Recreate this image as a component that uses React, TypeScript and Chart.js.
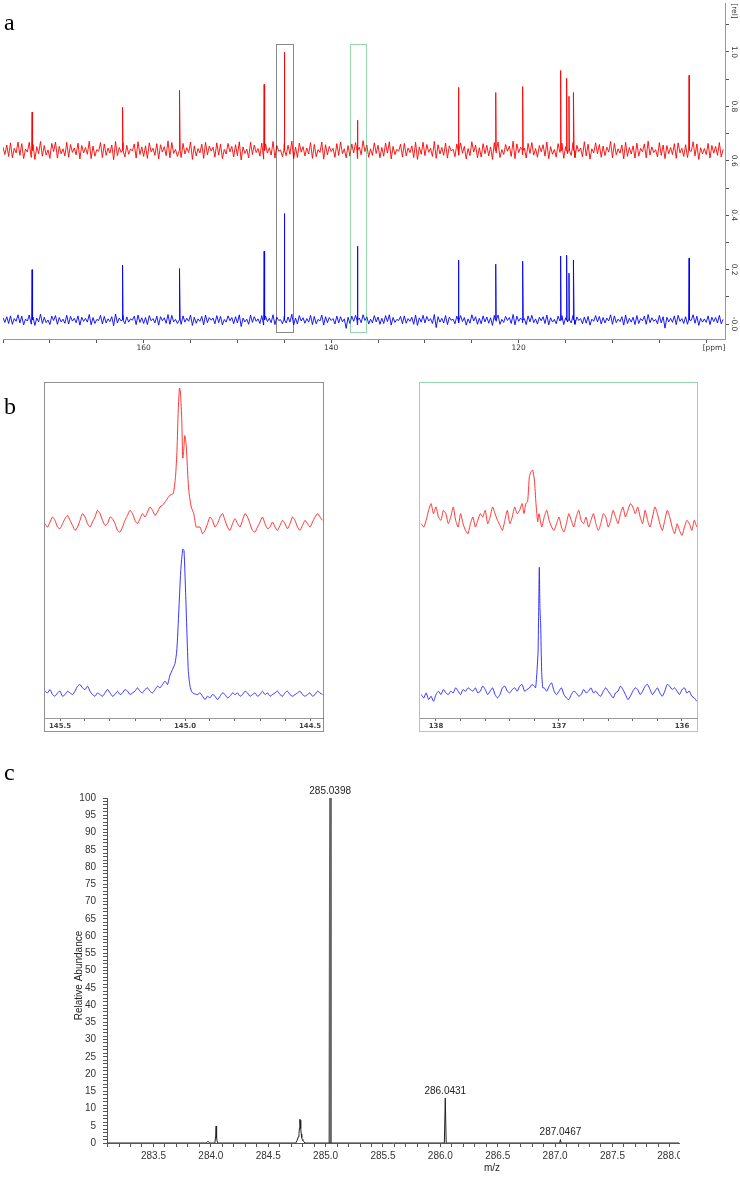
import React, { useEffect, useRef } from 'react';
import { Chart, registerables } from 'chart.js';

Chart.register(...registerables);
Chart.defaults.font.family = '"Liberation Sans", Arial, sans-serif';

// ================= Panel a : 13C spectra (ppm vs rel) =================
const A_PPM_MIN = 98;
const A_PPM_MAX = 175;
const A_REL_MIN = -0.055;
const A_REL_MAX = 1.18;
const A_UPPER_START_PPM = 175;   // grid of noise crests
const A_LOWER_START_PPM = 174.8; // interleaved grid of noise troughs
const A_NOISE_STEP_PPM = 0.4;
const A_RED_BASELINE = 0.638;
const A_BLUE_BASELINE = 0.015;
// baseline noise crests / troughs, in thousandths of "rel"
const redUpperA = [
  12, 20, 28, 8, 31, 25, 5, 30, 22, 14, 33, 18, 2, 26, 31, 15, 6, 30, 22, 9,
  27, 18, 11, 34, 16, 3, 29, 24, 9, 20, 33, 11, 27, 19, 6, 24, 32, 13, 17, 28,
  8, 25, 21, 14, 35, 29, 4, 19, 26, 10, 31, 17, 7, 23, 30, 16, 12, 28, 23, 4,
  26, 15, 21, 32, 13, 5, 30, 20, 7, 27, 24, 10, 33, 18, 2, 25, 19, 34, 12, 27,
  14, 9, 29, 22, 3, 31, 21, 15, 8, 25, 31, 6, 18, 24, 29, 12, 36, 20, 6, 28,
  19, 11, 27, 32, 15, 4, 23, 26, 9, 17, 30, 13, 30, 22, 8, 33, 21, 11, 27, 17,
  5, 24, 28, 15, 7, 32, 20, 10, 25, 19, 13, 29, 31, 3, 22, 16, 34, 24, 12, 9,
  26, 29, 7, 18, 21, 31, 14, 4, 25, 27, 14, 10, 30, 19, 9, 32, 23, 6, 28, 22,
  16, 12, 33, 26, 6, 20, 30, 11, 17, 27, 8, 24, 34, 13, 3, 29, 20, 18, 11, 25,
  28, 8, 21, 15, 32, 24, 10, 7, 26, 18, 15, 29, 4,
];
const redLowerA = [
  -15, -22, -27, -9, -18, -30, -6, -25, -33, -12, -21, -17, -29, -4, -28, -12, -20, -25, -7, -16,
  -31, -9, -14, -30, -21, -3, -26, -18, -10, -34, -19, -7, -24, -14, -2, -28, -15, -22, -29, -5,
  -18, -31, -6, -19, -27, -11, -22, -26, -13, -8, -33, -20, -9, -29, -16, -2, -24, -17, -30, -13,
  -5, -24, -19, -35, -11, -27, -15, -8, -21, -32, -10, -17, -28, -3, -23, -19, -14, -30, -26, -6,
  -20, -13, -29, -23, -7, -32, -16, -4, -25, -18, -12, -27, -21, -9, -30, -16, -4, -25, -18, -11,
  -27, -21, -10, -31, -15, -3, -24, -20, -8, -26, -33, -14, -19, -7, -22, -29, -13, -18, -28, -2,
  -23, -17, -10, -31, -19, -6, -27, -24, -12, -20, -33, -9, -26, -15, -3, -22, -30, -8, -16, -28,
  -11, -17, -25, -5, -21, -30, -14, -24, -7, -29, -11, -18, -26, -4, -23, -20, -32, -9, -12, -25,
  -19, -6, -27, -16, -10, -31, -22, -13, -28, -21, -5, -27, -17, -8, -24, -18, -30, -12, -15, -29,
  -9, -22, -26, -4, -20, -33, -13, -15, -28, -10, -18, -24,
];
const blueUpperA = [
  8, 12, 15, 5, 19, 14, 3, 18, 11, 7, 21, 10, 0, 14, 16, 9, 3, 17, 13, 6,
  15, 10, 6, 20, 9, 2, 17, 13, 4, 12, 22, 7, 16, 11, 4, 14, 18, 8, 9, 16,
  5, 14, 12, 8, 20, 17, 2, 11, 15, 6, 18, 10, 4, 13, 18, 9, 7, 16, 13, 2,
  15, 9, 12, 19, 7, 3, 18, 12, 4, 16, 14, 6, 19, 10, 1, 14, 11, 21, 7, 16,
  8, 5, 17, 13, 2, 18, 12, 9, 5, 14, 12, 4, 10, 14, 17, 7, 19, 12, 3, 16,
  11, 6, 16, 19, 9, 2, 13, 15, 5, 10, 18, 8, 17, 13, 5, 20, 12, 6, 16, 10,
  3, 14, 16, 9, 4, 19, 12, 6, 15, 11, 8, 17, 18, 2, 13, 9, 20, 14, 7, 5,
  15, 17, 4, 10, 12, 18, 8, 2, 14, 16, 8, 6, 17, 11, 5, 11, 13, 3, 16, 13,
  9, 7, 19, 15, 3, 12, 18, 6, 10, 16, 5, 14, 20, 8, 2, 17, 12, 10, 6, 15,
  17, 5, 12, 9, 19, 14, 6, 4, 15, 10, 9, 17, 2,
];
const blueLowerA = [
  -9, -13, -16, -5, -11, -18, -4, -15, -20, -7, -13, -10, -17, -2, -16, -7, -12, -15, -4, -10,
  -19, -5, -8, -18, -13, -2, -15, -11, -6, -21, -11, -4, -14, -8, -1, -17, -9, -13, -17, -3,
  -11, -19, -3, -12, -16, -7, -13, -16, -8, -5, -20, -12, -5, -18, -10, -1, -14, -10, -18, -8,
  -3, -14, -11, -24, -7, -16, -9, -5, -13, -19, -6, -10, -17, -2, -14, -11, -8, -18, -15, -4,
  -12, -8, -17, -14, -4, -19, -10, -2, -15, -11, -7, -31, -13, -5, -18, -10, -2, -15, -11, -7,
  -16, -13, -6, -19, -9, -2, -14, -12, -5, -16, -20, -8, -11, -4, -13, -28, -8, -11, -17, -1,
  -14, -10, -6, -19, -12, -4, -16, -14, -7, -12, -20, -5, -16, -9, -2, -13, -18, -5, -10, -17,
  -7, -10, -15, -3, -13, -18, -8, -14, -4, -17, -7, -11, -16, -2, -14, -12, -19, -5, -7, -15,
  -11, -4, -16, -10, -6, -19, -13, -8, -17, -13, -3, -16, -10, -5, -14, -11, -30, -7, -9, -17,
  -5, -13, -16, -2, -12, -20, -8, -9, -17, -6, -11, -14,
];
const peakPpmA = [171.9, 162.25, 156.15, 147.15, 145.0, 137.2, 126.41, 122.45, 119.56, 115.53, 114.89, 114.64, 114.14, 101.83];
const redPeakA = [0.779, 0.797, 0.859, 0.881, 0.999, 0.749, 0.87, 0.851, 0.873, 0.932, 0.903, 0.837, 0.851, 0.914];
const bluePeakA = [0.2, 0.217, 0.204, 0.268, 0.406, 0.286, 0.235, 0.22, 0.231, 0.25, 0.253, 0.187, 0.235, 0.242];
const ppmTickStepA = 5;
const ppmLabelsA = [160, 140, 120];
const relTickStepA = 0.1;
const relLabelValuesA = [0, 0.2, 0.4, 0.6, 0.8, 1.0];
const relLabelTextsA = ['-0.0', '0.2', '0.4', '0.6', '0.8', '1.0'];
const boxPpmHighA = [145.9, 138.02];
const boxPpmLowA = [144.08, 136.26];
const boxColorsA = ['#111111', '#2fae5f'];
const BOX_REL_TOP_A = 1.028;
const BOX_REL_BOTTOM_A = -0.028;

// ================= Panel b (left) : 145.0 ppm region =================
const BL_PPM_MIN = 144.448;
const BL_PPM_MAX = 145.56;
const BL_START = 145.56;
const BL_STEP = 0.01;
const redNoiseBL = [
  58, 57, 58.5, 60, 59, 57, 56.5, 58, 59.5, 60.5, 59, 57.5, 56, 57, 59, 61, 60, 58, 57, 58.5,
  60, 62, 61, 59, 57.5, 58, 60, 59.5, 58, 56, 55.5, 57, 59, 60.5, 62, 61, 59, 58, 59.5, 61,
  60, 61.5, 63, 62, 60.5, 61.5, 63,
  null, null, null, null, null, null, null, null, null, null, null, null, null, null, null,
  57, 55, 56, 58, 60, 59, 57, 58, 60, 61, 59, 57, 56, 58, 59.5, 58, 57, 59, 61, 60,
  58, 56, 55.5, 57, 58.5, 60, 58, 56.5, 57, 58.5, 57, 56, 57.5, 59, 58, 56.5, 58, 60, 59, 57,
  56, 57.5, 59, 58, 57, 58.5, 60, 61, 60, 59,
];
const blueNoiseBL = [
  8, 7.5, 8.5, 7, 6.5, 7.5, 8, 6.5, 7, 8, 7.5, 7, 8, 9.5, 10, 9, 8.5, 9.5, 8, 7,
  6.5, 7.5, 7, 6.5, 7.5, 8.5, 7.5, 6.5, 7, 8, 7, 7.5, 8.5, 8, 7, 7.5, 8, 9, 8, 7.5,
  8.5, 9, 8, 7.5, 8.5, 9.5, 9, 10, 11,
  null, null, null, null, null, null, null, null, null, null, null, null,
  7, 7.5, 6.5, 5.5, 6.5, 6, 7, 6.5, 5.5, 6.5, 7.5, 7, 6, 6.5, 7.5, 7, 7.5, 6.5, 7, 8,
  7.5, 6.5, 7, 7.5, 6.5, 7, 8, 7, 7.5, 6.5, 7, 7.5, 8, 7, 6.5, 7.5, 8, 7, 6.5, 7,
  7.5, 8, 7, 6.5, 7, 7.5, 6.5, 7, 8, 7.5, 7,
];
const redPeakPpmBL = [145.09, 145.075, 145.06, 145.047, 145.038, 145.032, 145.027, 145.022, 145.018, 145.013, 145.009, 145.005, 145.001, 144.996, 144.992, 144.985, 144.975, 144.965, 144.955];
const redPeakValBL = [63.5, 65, 66.5, 67, 72, 80, 92, 98.5, 97, 89, 77.6, 80, 84.3, 82, 77, 68, 63, 61, 57];
const bluePeakPpmBL = [145.07, 145.06, 145.05, 145.04, 145.033, 145.027, 145.017, 145.009, 145.004, 144.996, 144.987, 144.98, 144.973, 144.965];
const bluePeakValBL = [10, 12.8, 14.5, 16.3, 20, 28.3, 44, 50.4, 50, 34, 14.3, 9.5, 7.8, 7.3];
const tickStepBL = 0.1;
const labelsBL = [145.5, 145.0, 144.5];

// ================= Panel b (right) : 137 ppm region =================
const BR_PPM_MIN = 135.878;
const BR_PPM_MAX = 138.13;
const BR_START = 138.12;
const BR_STEP = 0.02;
const redNoiseBR = [
  58, 57, 59, 62, 64, 61, 63, 60, 59, 62, 61, 58, 60, 63, 59, 57, 61, 58, 56, 55,
  58, 60, 57, 59, 61, 60, 62, 58, 60, 63, 61, 59, 57.5, 56, 59, 62, 58, 60, 63, 61,
  62, 64,
  null, null, null, null, null, null, null,
  57, 60, 62, 59, 57, 56, 58, 60, 57, 55.5, 58, 61, 59, 57, 60, 62, 59, 58, 60, 57,
  59, 61, 58, 56, 58, 61, 60, 57, 59, 62, 60, 58, 61, 63, 60, 62, 64, 63, 61, 63,
  60, 58, 62, 59, 57, 60, 63, 61, 58, 56, 59, 62, 60, 57, 55, 58, 56, 54.5, 57, 59,
  58, 56, 59, 57,
];
const blueNoiseBR = [
  7, 6, 7.5, 5.5, 6.5, 5, 7, 8, 7, 8.5, 7.5, 7, 8, 7.5, 9, 8, 7, 8.5, 8, 9,
  8.5, 8, 9, 7.5, 8, 9.5, 8.5, 7, 8, 9, 7, 6, 7, 9, 9.5, 8, 7.5, 8.5, 9, 8,
  9.5, 10, 8, 8.5, 9, 10,
  null, null, null, null, null,
  8, 9.5, 10.5, 8, 7, 8, 9, 7, 6, 5.5, 7, 8, 7.5, 6.5, 7, 8.5, 7.5, 8, 9, 7.5,
  8, 7, 6.5, 8, 9, 8, 7, 6, 7.5, 8, 9.5, 8.5, 7, 5.5, 6.5, 8, 9, 8.5, 7, 8,
  9.5, 10, 8.5, 7, 8, 9, 7.5, 6.5, 8, 10, 9.5, 8.5, 9, 8, 7, 8.5, 9, 7.5, 8, 6.5,
  6, 5,
];
const redPeakPpmBR = [137.285, 137.27, 137.255, 137.241, 137.228, 137.214, 137.2, 137.187, 137.173, 137.163];
const redPeakValBR = [61, 64, 64.6, 72, 73.5, 74, 71, 64, 58.6, 61];
const bluePeakPpmBR = [137.2, 137.19, 137.179, 137.17, 137.165, 137.16, 137.155, 137.149, 137.141, 137.132, 137.12];
const bluePeakValBR = [9.5, 9, 14, 20, 33, 45, 33, 28, 14, 9, 9];
const tickStepBR = 0.2;
const labelsBR = [138, 137, 136];

// ================= Panel c : mass spectrum =================
const MZ_MIN = 283.095;
const MZ_MAX = 288.08;
const msMz = [283.095, 283.96, 283.975, 283.99, 284.035, 284.042, 284.046, 284.05, 284.058, 284.74, 284.752, 284.762, 284.768, 284.773, 284.776, 284.779, 284.782, 284.785, 284.788, 284.792, 284.797, 284.803, 284.81, 284.82, 285.033, 285.047, 286.035, 286.0431, 286.051, 287.04, 287.0467, 287.053, 288.08];
const msAbund = [0, 0, 0.5, 0, 0, 2, 4.9, 1.5, 0, 0, 0.8, 1.8, 2.8, 4.5, 6.9, 5.2, 6.6, 4.2, 2.6, 1.6, 1.0, 0.7, 0.4, 0, 0, 0, 0, 13, 0, 0, 1, 0, 0];
const msMainMz = [285.034, 285.0398, 285.046];
const msMainAbund = [0, 100, 0];
const msLabelMz = [285.0398, 286.0431, 287.0467];
const msLabelAbund = [100, 13, 1];
const mzTickStep = 0.1;
const abundTickStep = 1;

// ================= helpers =================
function buildA(upper: number[], lower: number[], base: number, peaks: number[]) {
  const pts: { x: number; y: number }[] = upper.map((n, i) => ({ x: A_UPPER_START_PPM - i * A_NOISE_STEP_PPM, y: base + n / 1000 }));
  lower.forEach((n, i) => pts.push({ x: A_LOWER_START_PPM - i * A_NOISE_STEP_PPM, y: base + n / 1000 }));
  peakPpmA.forEach((p, k) => {
    pts.push({ x: p + 0.05, y: base }, { x: p, y: peaks[k] }, { x: p - 0.05, y: base });
  });
  pts.sort((a, b) => b.x - a.x);
  return pts;
}

function buildB(start: number, step: number, noise: (number | null)[], px: number[], py: number[]) {
  const pts: { x: number; y: number }[] = [];
  noise.forEach((v, i) => {
    if (v !== null) pts.push({ x: start - i * step, y: v });
  });
  px.forEach((x, k) => pts.push({ x, y: py[k] }));
  pts.sort((a, b) => b.x - a.x);
  return pts;
}

const near = (a: number, b: number) => Math.abs(a - b) < 1e-6;

const NMR_FONT = '"DejaVu Sans", Verdana, sans-serif';

function configA() {
  const plugin = {
    id: 'panelA',
    afterDraw(chart: any) {
      const { ctx, scales } = chart;
      const x = scales.x;
      const y = scales.y;
      ctx.save();
      ctx.lineWidth = 1;
      ctx.setLineDash([1, 1]);
      boxPpmHighA.forEach((hi, k) => {
        const x1 = Math.round(x.getPixelForValue(hi));
        const x2 = Math.round(x.getPixelForValue(boxPpmLowA[k]));
        const y1 = Math.round(y.getPixelForValue(BOX_REL_TOP_A));
        const y2 = Math.round(y.getPixelForValue(BOX_REL_BOTTOM_A));
        ctx.strokeStyle = boxColorsA[k];
        ctx.strokeRect(x1 + 0.5, y1 + 0.5, x2 - x1, y2 - y1);
      });
      ctx.setLineDash([]);
      ctx.fillStyle = '#333';
      ctx.font = '7.5px ' + NMR_FONT;
      ctx.textAlign = 'center';
      ctx.textBaseline = 'middle';
      const lx = y.left + 8.5;
      relLabelValuesA.forEach((v, i) => {
        ctx.save();
        ctx.translate(lx, y.getPixelForValue(v));
        ctx.rotate(Math.PI / 2);
        ctx.fillText(relLabelTextsA[i], 0, 0);
        ctx.restore();
      });
      ctx.save();
      ctx.translate(lx, chart.chartArea.top + 8);
      ctx.rotate(Math.PI / 2);
      ctx.fillText('[rel]', 0, 0);
      ctx.restore();
      ctx.fillText('[ppm]', chart.chartArea.right - 11, x.top + 9);
      ctx.restore();
    },
  };
  return {
    type: 'line',
    data: {
      datasets: [
        { data: buildA(redUpperA, redLowerA, A_RED_BASELINE, redPeakA), borderColor: '#ff0000', borderWidth: 0.9, pointRadius: 0, tension: 0 },
        { data: buildA(blueUpperA, blueLowerA, A_BLUE_BASELINE, bluePeakA), borderColor: '#0000ff', borderWidth: 0.9, pointRadius: 0, tension: 0 },
      ],
    },
    options: {
      animation: false,
      responsive: false,
      devicePixelRatio: 1,
      events: [],
      layout: { padding: { left: 3, top: 3, right: 0, bottom: 0 } },
      plugins: { legend: { display: false }, tooltip: { enabled: false } },
      scales: {
        x: {
          type: 'linear', reverse: true, min: A_PPM_MIN, max: A_PPM_MAX, position: 'bottom',
          afterFit: (s: any) => { s.height = 21; },
          border: { display: true, color: '#999', width: 1 },
          grid: { display: true, drawOnChartArea: false, drawTicks: true, tickLength: 4, color: '#555' },
          ticks: {
            stepSize: ppmTickStepA, includeBounds: false, autoSkip: false, minRotation: 0, maxRotation: 0, padding: 0.5,
            font: { family: NMR_FONT, size: 7.5 }, color: '#333',
            callback: (v: number) => (ppmLabelsA.some((l) => near(l, v)) ? String(v) : ''),
          },
        },
        y: {
          type: 'linear', position: 'right', min: A_REL_MIN, max: A_REL_MAX,
          afterFit: (s: any) => { s.width = 15; },
          border: { display: true, color: '#999', width: 1 },
          grid: { display: true, drawOnChartArea: false, drawTicks: true, tickLength: 4, color: '#555' },
          ticks: { display: false, stepSize: relTickStepA, includeBounds: false, autoSkip: false },
        },
      },
    },
    plugins: [plugin],
  };
}

function configB(side: 'L' | 'R') {
  const isL = side === 'L';
  const red = isL ? buildB(BL_START, BL_STEP, redNoiseBL, redPeakPpmBL, redPeakValBL) : buildB(BR_START, BR_STEP, redNoiseBR, redPeakPpmBR, redPeakValBR);
  const blue = isL ? buildB(BL_START, BL_STEP, blueNoiseBL, bluePeakPpmBL, bluePeakValBL) : buildB(BR_START, BR_STEP, blueNoiseBR, bluePeakPpmBR, bluePeakValBR);
  const labels = isL ? labelsBL : labelsBR;
  const borderColor = isL ? '#222222' : '#2fae5f';
  const plugin = {
    id: 'panelB' + side,
    afterDraw(chart: any) {
      const { ctx, width, height } = chart;
      ctx.save();
      ctx.lineWidth = 1;
      ctx.setLineDash([1, 1]);
      ctx.strokeStyle = borderColor;
      ctx.strokeRect(0.5, 0.5, width - 1, height - 1);
      ctx.restore();
    },
  };
  return {
    type: 'line',
    data: {
      datasets: [
        { data: red, borderColor: '#ff2020', borderWidth: 0.9, pointRadius: 0, tension: 0.2 },
        { data: blue, borderColor: '#2020ff', borderWidth: 0.9, pointRadius: 0, tension: 0.2 },
      ],
    },
    options: {
      animation: false,
      responsive: false,
      devicePixelRatio: 1,
      events: [],
      layout: { padding: { left: 1, top: 1, right: 1, bottom: 0 } },
      plugins: { legend: { display: false }, tooltip: { enabled: false } },
      scales: {
        x: {
          type: 'linear', reverse: true,
          min: isL ? BL_PPM_MIN : BR_PPM_MIN, max: isL ? BL_PPM_MAX : BR_PPM_MAX,
          afterFit: (s: any) => { s.height = 14; },
          border: { display: true, color: '#999', width: 1 },
          grid: { display: true, drawOnChartArea: false, drawTicks: true, tickLength: 3, color: '#666' },
          ticks: {
            stepSize: isL ? tickStepBL : tickStepBR, includeBounds: false, autoSkip: false, minRotation: 0, maxRotation: 0, padding: 1,
            font: { family: NMR_FONT, size: 7, weight: 'bold' }, color: '#444',
            callback: (v: number) => (labels.some((l) => near(l, v)) ? (isL ? v.toFixed(1) : String(Math.round(v))) : ''),
          },
        },
        y: { display: false, min: 0, max: 100 },
      },
    },
    plugins: [plugin],
  };
}

function configC() {
  const plugin = {
    id: 'panelC',
    afterDraw(chart: any) {
      const { ctx, scales } = chart;
      const x = scales.x;
      const y = scales.y;
      ctx.save();
      ctx.fillStyle = '#222';
      ctx.font = '10px "Liberation Sans", Arial, sans-serif';
      ctx.textAlign = 'center';
      ctx.textBaseline = 'bottom';
      msLabelMz.forEach((m, i) => {
        ctx.fillText(m.toFixed(4), x.getPixelForValue(m), y.getPixelForValue(msLabelAbund[i]) - 2);
      });
      ctx.textBaseline = 'middle';
      ctx.fillText('m/z', 492, x.top + 25);
      ctx.save();
      ctx.translate(79, (y.top + y.bottom) / 2 + 5);
      ctx.rotate(-Math.PI / 2);
      ctx.fillText('Relative Abundance', 0, 0);
      ctx.restore();
      ctx.restore();
    },
  };
  const minor = msMz.map((m, i) => ({ x: m, y: msAbund[i] }));
  const main = msMainMz.map((m, i) => ({ x: m, y: msMainAbund[i] }));
  return {
    type: 'line',
    data: {
      datasets: [
        { data: minor, borderColor: '#222', borderWidth: 1, pointRadius: 0, tension: 0 },
        { data: main, borderColor: '#666', borderWidth: 2, pointRadius: 0, tension: 0 },
      ],
    },
    options: {
      animation: false,
      responsive: false,
      devicePixelRatio: 1,
      events: [],
      layout: { padding: { left: 0, top: 38, right: 61, bottom: 0 } },
      plugins: { legend: { display: false }, tooltip: { enabled: false } },
      scales: {
        x: {
          type: 'linear', min: MZ_MIN, max: MZ_MAX,
          afterFit: (s: any) => { s.height = 34; },
          border: { display: true, color: '#555', width: 1 },
          grid: { display: true, drawOnChartArea: false, drawTicks: true, tickLength: 4, color: '#555' },
          ticks: {
            stepSize: mzTickStep, includeBounds: false, autoSkip: false, minRotation: 0, maxRotation: 0, padding: 3,
            font: { size: 10 }, color: '#333',
            callback: (v: number) => (near(v * 2, Math.round(v * 2)) ? v.toFixed(1) : ''),
          },
        },
        y: {
          type: 'linear', min: 0, max: 100,
          afterFit: (s: any) => { s.width = 107; },
          border: { display: true, color: '#555', width: 1 },
          grid: { display: true, drawOnChartArea: false, drawTicks: true, tickLength: 4, color: '#555' },
          ticks: {
            stepSize: abundTickStep, autoSkip: false, padding: 7,
            font: { size: 10 }, color: '#333',
            callback: (v: number) => (near(v % 5, 0) ? String(v) : ''),
          },
        },
      },
    },
    plugins: [plugin],
  };
}

function ChartBox({ left, top, width, height, canvasWidth, make }: any) {
  const ref = useRef<HTMLCanvasElement | null>(null);
  useEffect(() => {
    if (!ref.current) return;
    const chart = new Chart(ref.current, make());
    return () => chart.destroy();
  }, []);
  const cw = canvasWidth ?? width;
  return (
    <div style={{ position: 'absolute', left, top, width, height, overflow: 'hidden' }}>
      <canvas ref={ref} width={cw} height={height} style={{ display: 'block', width: cw, height }} />
    </div>
  );
}

const labelStyle: React.CSSProperties = {
  position: 'absolute',
  fontFamily: '"Liberation Serif", "Times New Roman", serif',
  fontSize: 24,
  lineHeight: '24px',
  color: '#000',
};

export default function App() {
  return (
    <div style={{ position: 'absolute', left: 0, top: 0, width: 740, height: 1177, background: '#fff', overflow: 'hidden' }}>
      <ChartBox left={0} top={0} width={740} height={360} make={configA} />
      <ChartBox left={44} top={382} width={280} height={350} make={() => configB('L')} />
      <ChartBox left={419} top={382} width={279} height={350} make={() => configB('R')} />
      <ChartBox left={0} top={760} width={680} height={417} canvasWidth={740} make={configC} />
      <div style={{ ...labelStyle, left: 4, top: 10 }}>a</div>
      <div style={{ ...labelStyle, left: 4, top: 394 }}>b</div>
      <div style={{ ...labelStyle, left: 4, top: 760 }}>c</div>
    </div>
  );
}
